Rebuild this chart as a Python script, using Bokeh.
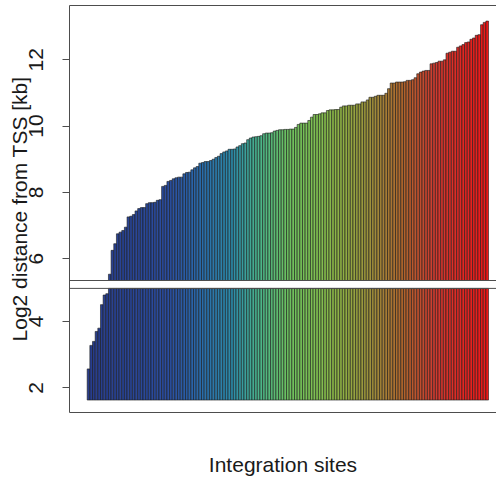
from bokeh.plotting import figure
from bokeh.models import LinearAxis, Range1d, FixedTicker, ColumnDataSource, Span
from bokeh.embed import file_html
from bokeh.resources import INLINE

# ---- data (sorted log2 distances, one bar per integration site) ----
log2_distance = [
    2.57, 3.28, 3.40, 3.70, 3.80, 4.51, 4.80, 4.84,
    5.53, 6.25, 6.45, 6.75, 6.80, 6.85, 6.95, 7.26, 7.28, 7.33, 7.44, 7.51,
    7.54, 7.54, 7.66, 7.69, 7.69, 7.70, 7.76, 7.78, 8.18, 8.21, 8.33, 8.36,
    8.41, 8.44, 8.46, 8.46, 8.56, 8.60, 8.61, 8.68, 8.74, 8.78, 8.88, 8.90,
    8.93, 8.93, 8.96, 9.00, 9.05, 9.09, 9.17, 9.22, 9.25, 9.30, 9.30, 9.31,
    9.37, 9.41, 9.47, 9.49, 9.59, 9.64, 9.67, 9.68, 9.69, 9.71, 9.77, 9.79,
    9.79, 9.80, 9.85, 9.87, 9.89,
    9.89, 9.90, 9.90, 9.91, 9.91, 9.96, 10.05, 10.09, 10.09, 10.09, 10.17,
    10.27, 10.35, 10.35, 10.37, 10.40, 10.40, 10.47, 10.49, 10.49, 10.50,
    10.50, 10.57, 10.61, 10.61, 10.63, 10.63, 10.63, 10.67, 10.67, 10.73,
    10.73, 10.79, 10.87, 10.87, 10.90, 10.93, 10.93, 10.93, 10.99, 11.13,
    11.30, 11.30, 11.33, 11.33, 11.33, 11.34, 11.38, 11.38, 11.40, 11.46,
    11.58, 11.63, 11.66, 11.68, 11.68, 11.88, 11.90, 11.92, 11.96, 11.96,
    12.00, 12.20, 12.23, 12.26, 12.26, 12.38, 12.42, 12.46, 12.52, 12.54,
    12.62, 12.66, 12.74, 12.76, 13.06, 13.13, 13.17,
]
sites = list(range(1, len(log2_distance) + 1))
upper_ticks = [6, 8, 10, 12]
lower_ticks = [2, 4]
y_title = "Log2 distance from TSS [kb]"
x_title = "Integration sites"

# ---- broken axis: two y ranges sharing one frame (same scale) ----
UPPER_RANGE = (1.356, 13.64)   # upper panel shows values above UPPER_BASE
UPPER_BASE = 5.34
LOWER_RANGE = (1.254, 13.539)  # lower panel shows values up to LOWER_TOP
LOWER_TOP = 5.0
LOWER_BASE = 1.63

# ---- style ----
FONT = "Liberation Sans"
FS = "21px"
AXIS_COL = "#4d4d4d"
TEXT_COL = "#1a1a1a"
ramp = [(0.00, (40, 60, 140)), (0.20, (43, 78, 160)), (0.28, (42, 106, 170)),
        (0.36, (45, 140, 170)), (0.43, (75, 182, 138)), (0.50, (108, 192, 96)),
        (0.58, (130, 192, 80)), (0.64, (145, 175, 68)), (0.72, (160, 138, 58)),
        (0.79, (176, 100, 44)), (0.87, (208, 58, 48)), (1.00, (240, 24, 24))]


def ramp_color(t):
    for (t0, c0), (t1, c1) in zip(ramp[:-1], ramp[1:]):
        if t <= t1:
            f = (t - t0) / (t1 - t0) if t1 > t0 else 0
            c = [round(a + (b - a) * f) for a, b in zip(c0, c1)]
            return "#%02x%02x%02x" % tuple(c)
    return "#%02x%02x%02x" % ramp[-1][1]


n = len(log2_distance)
colors = [ramp_color(i / (n - 1)) for i in range(n)]

up_idx = [i for i, v in enumerate(log2_distance) if v > UPPER_BASE]
upper_src = ColumnDataSource(dict(
    x=[sites[i] for i in up_idx], top=[log2_distance[i] for i in up_idx],
    color=[colors[i] for i in up_idx]))
lower_src = ColumnDataSource(dict(
    x=sites, top=[min(v, LOWER_TOP) for v in log2_distance], color=colors))

p = figure(width=496, height=478, x_range=Range1d(-6.16, 154.5),
           y_range=Range1d(*UPPER_RANGE), output_backend="svg", toolbar_location=None,
           x_axis_location=None, y_axis_location="left",
           min_border_left=69, min_border_right=0, min_border_top=5, min_border_bottom=66)
p.extra_y_ranges = {"lower": Range1d(*LOWER_RANGE)}
p.outline_line_color = None
p.grid.visible = False

p.vbar(x="x", top="top", bottom=UPPER_BASE, width=1, source=upper_src,
       fill_color="color", line_color="#1a1a1a", line_width=0.6)
p.vbar(x="x", top="top", bottom=LOWER_BASE, width=1, source=lower_src,
       fill_color="color", line_color="#1a1a1a", line_width=0.6, y_range_name="lower")

# panel edges at the break
p.add_layout(Span(location=UPPER_BASE, dimension="width", line_color=AXIS_COL, line_width=1))
p.add_layout(Span(location=LOWER_TOP, dimension="width", line_color=AXIS_COL, line_width=1,
                  y_range_name="lower"))

# left axis: lower-panel ticks mapped into the upper range's coordinates
shift = UPPER_RANGE[0] - LOWER_RANGE[0]
tick_pos = [t + shift for t in lower_ticks] + upper_ticks
ya = p.yaxis[0]
ya.ticker = FixedTicker(ticks=tick_pos)
ya.major_label_overrides = {t + shift: str(t) for t in lower_ticks}
ya.major_label_orientation = "vertical"
ya.major_label_text_font = FONT
ya.major_label_text_font_size = FS
ya.major_label_text_color = TEXT_COL
ya.major_label_standoff = 19
ya.major_tick_out = 7
ya.major_tick_in = 0
ya.minor_tick_out = 0
ya.minor_tick_in = 0
ya.axis_line_color = AXIS_COL
ya.major_tick_line_color = AXIS_COL
ya.axis_label = y_title
ya.axis_label_text_font = FONT
ya.axis_label_text_font_size = FS
ya.axis_label_text_font_style = "normal"
ya.axis_label_text_color = TEXT_COL
ya.axis_label_standoff = -4


def border_axis(label=None):
    ax = LinearAxis(ticker=FixedTicker(ticks=[]), major_tick_out=0, major_tick_in=0,
                    minor_tick_out=0, minor_tick_in=0, major_label_standoff=0,
                    axis_line_color=AXIS_COL, axis_line_width=1)
    if label:
        ax.axis_label = label
        ax.axis_label_text_font = FONT
        ax.axis_label_text_font_size = FS
        ax.axis_label_text_font_style = "normal"
        ax.axis_label_text_color = TEXT_COL
        ax.axis_label_standoff = 40
    return ax


p.add_layout(border_axis(), "above")
p.add_layout(border_axis(x_title), "below")

open("out.html", "w").write(file_html(p, INLINE))
